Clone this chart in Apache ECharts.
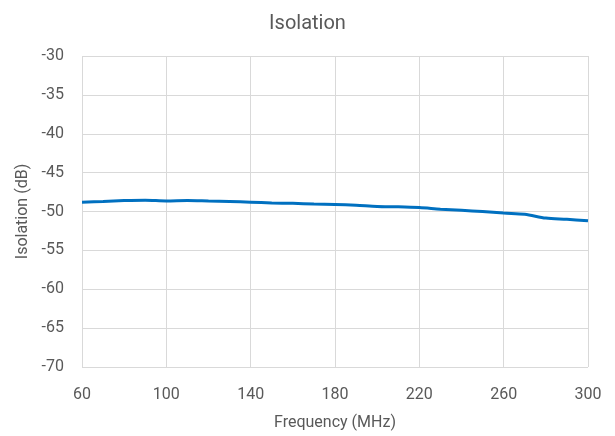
<!DOCTYPE html>
<html>
<head>
<meta charset="utf-8">
<script src="https://cdn.jsdelivr.net/npm/echarts@6/dist/echarts.min.js"></script>
<style>
  html, body { margin: 0; padding: 0; background: #fff; }
  #chart { width: 615px; height: 436px; }
</style>
</head>
<body>
<div id="chart"></div>
<script>
// frequency (MHz) and isolation (dB)
var freqs = [60, 70, 80, 90, 100, 110, 120, 130, 140, 150, 160, 170, 180, 190, 200, 210, 220, 230, 240, 250, 260, 270, 280, 290, 300];
var isolation = [-48.8, -48.7, -48.6, -48.55, -48.65, -48.6, -48.65, -48.7, -48.8, -48.9, -48.95, -49.05, -49.1, -49.2, -49.35, -49.4, -49.5, -49.7, -49.85, -50.0, -50.2, -50.35, -50.85, -51.0, -51.2];

var chartDom = document.getElementById("chart");
var myChart = echarts.init(chartDom);

var textColor = "#595959";
var gridColor = "#d9d9d9";

var option = {
  animation: false,
  title: {
    text: "Isolation",
    left: "center",
    top: 9,
    textStyle: { fontFamily: "Roboto", fontSize: 20, fontWeight: "normal", color: textColor }
  },
  grid: { left: 82, right: 27, top: 56, bottom: 69 },
  xAxis: {
    type: "value",
    min: 60,
    max: 300,
    interval: 40,
    name: "Frequency (MHz)",
    nameLocation: "middle",
    nameGap: 48,
    nameTextStyle: { fontFamily: "Roboto", fontSize: 16, color: textColor },
    axisLine: { show: false },
    axisTick: { show: false },
    axisLabel: { fontFamily: "Roboto", fontSize: 16, color: textColor, margin: 20 },
    splitLine: { show: true, lineStyle: { color: gridColor, width: 1 } }
  },
  yAxis: {
    type: "value",
    min: -70,
    max: -30,
    interval: 5,
    name: "Isolation (dB)",
    nameLocation: "middle",
    nameGap: 49,
    nameTextStyle: { fontFamily: "Roboto", fontSize: 16, color: textColor },
    axisLine: { show: false },
    axisTick: { show: false },
    axisLabel: { fontFamily: "Roboto", fontSize: 16, color: textColor, margin: 18 },
    splitLine: { show: true, lineStyle: { color: gridColor, width: 1 } }
  },
  series: [
    {
      name: "Isolation",
      type: "line",
      data: freqs.map(function (f, i) { return [f, isolation[i]]; }),
      showSymbol: false,
      smooth: 0.3,
      lineStyle: { color: "#0070c0", width: 3 },
      itemStyle: { color: "#0070c0" }
    }
  ]
};

option && myChart.setOption(option, true);
</script>
</body>
</html>
